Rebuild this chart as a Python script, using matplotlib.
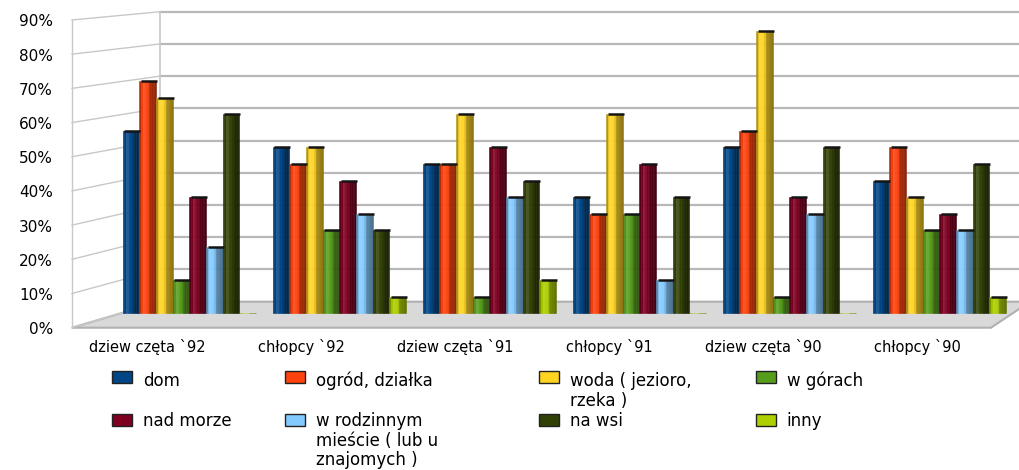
import numpy as np
import matplotlib.pyplot as plt
from matplotlib.patches import Polygon, Rectangle
from matplotlib.colors import to_rgb

plt.rcParams['font.family'] = ['DejaVu Sans']

groups = ['dziew częta `92', 'chłopcy `92', 'dziew częta `91',
          'chłopcy `91', 'dziew częta `90', 'chłopcy `90']
series = ['dom', 'ogród, działka', 'woda ( jezioro,\nrzeka )', 'w górach',
          'nad morze', 'w rodzinnym\nmieście ( lub u\nznajomych )', 'na wsi', 'inny']

dom = [55, 50, 45, 35, 50, 40]
ogrod = [70, 45, 45, 30, 55, 50]
woda = [65, 50, 60, 60, 85, 35]
gory = [10, 25, 5, 30, 5, 25]
morze = [35, 40, 50, 45, 35, 30]
rodzina = [20, 30, 35, 10, 30, 25]
wies = [60, 25, 40, 35, 50, 45]
inny = [0, 5, 10, 0, 0, 5]
values = [dom, ogrod, woda, gory, morze, rodzina, wies, inny]

colors = ['#004586', '#ff420e', '#ffd320', '#579d1c',
          '#7e0021', '#83caff', '#314004', '#aecf00']
yticks = [0, 10, 20, 30, 40, 50, 60, 70, 80, 90]

# pixel layout of the fake 3d box (bars stand in the middle plane)
W, H = 1019, 470
X0, P, Y0, S = 189.4, 150.0, 313.3, 3.32


def dx(px):
    return (px - X0) / P


def dy(py):
    return (Y0 - py) / S


def y_back(v):
    return 301.7 - 3.222 * v


def y_front(v):
    return 327.7 - 3.419 * v


def x_front(px_mid):
    xb = (px_mid + 48.4) / 1.0275
    return 1.055 * xb - 96.8


def shade(c, f):
    rgb = np.array(to_rgb(c))
    if f <= 1:
        return tuple(rgb * f)
    return tuple(rgb + (1 - rgb) * (f - 1))


fig = plt.figure(figsize=(W / 100, H / 100), dpi=100)
ax = fig.add_axes([0, 0, 1, 1])
ax.set_xlim(dx(0), dx(W))
ax.set_ylim(dy(H), dy(0))
ax.axis('off')

grid_c = '#b8b8b8'
# floor
floor = [(72, 327.7), (160, 301.7), (1030, 301.7), (991, 327.7)]
ax.add_patch(Polygon([(dx(a), dy(b)) for a, b in floor], closed=True,
                     facecolor='#d9d9d9', edgecolor='#b0b0b0', lw=1.5, zorder=1))
# back wall and side wall grid
for v in yticks[1:]:
    ax.plot([dx(160), dx(1030)], [dy(y_back(v))] * 2, color=grid_c, lw=1.6, zorder=1)
for v in yticks:
    ax.plot([dx(72), dx(160)], [dy(y_front(v)), dy(y_back(v))], color='#c8c8c8', lw=1.0, zorder=1)
ax.plot([dx(72)] * 2, [dy(y_front(0)), dy(y_front(90))], color='#c8c8c8', lw=1.0, zorder=1)
ax.plot([dx(160)] * 2, [dy(y_back(0)), dy(y_back(90))], color='#c8c8c8', lw=1.2, zorder=1)

for v in yticks:
    ax.text(dx(53), dy(y_front(v) + 2), f'{v}%', ha='right', va='center',
            fontsize=11, color='black')

# bars with a simple cylinder-like shading
x = np.arange(len(groups))
bw = 1 / 9
profile = [0.7, 0.95, 1.12, 1.06, 1.0, 0.9, 0.66, 0.62, 0.6, 0.56]
ns = len(profile)
for j, (vals, c) in enumerate(zip(values, colors)):
    left = x + (j - 4) * bw
    for k, f in enumerate(profile):
        ax.bar(left + (k + 0.5) * bw / ns, vals, width=bw / ns, align='center',
               color=shade(c, f), edgecolor=shade(c, f), lw=0.4, zorder=3)
    for xl, v in zip(left, vals):
        if v > 0:
            ax.plot([xl + 0.1 * bw, xl + 1.05 * bw], [v, v], color='#141414',
                    lw=1.8, solid_capstyle='butt', zorder=4)

# category labels at the front edge of the floor
for i, g in enumerate(groups):
    ax.text(dx(x_front(X0 + P * i)), dy(347), g, ha='center', va='center',
            fontsize=10.5, color='black')

# legend
sq_x = [112, 285, 539, 756]
tx_x = [142.7, 315.7, 570, 786.7]
row_sq = [377.3, 419.5]
row_base = [386, 426]
line_h = 19.5
for j, (lab, c) in enumerate(zip(series, colors)):
    col, row = j % 4, j // 4
    ax.add_patch(Rectangle((dx(sq_x[col]), dy(row_sq[row] + 6)), 20 / P, 12 / S,
                           facecolor=c, edgecolor='#222222', lw=1.0))
    nl = lab.count('\n')
    ax.text(dx(tx_x[col]), dy(row_base[row] + nl * line_h), lab, ha='left',
            va='baseline', fontsize=12, linespacing=1.1, color='black')

fig.savefig('out.png', dpi=100)
